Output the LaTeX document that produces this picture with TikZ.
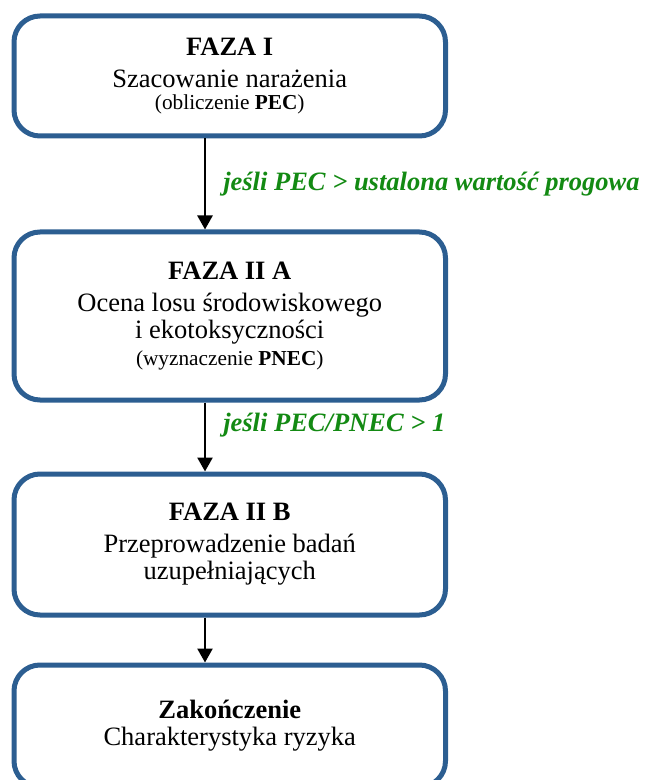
\documentclass[tikz,border=0pt]{standalone}
\usepackage{fontspec}
\setmainfont{Liberation Serif}
\usetikzlibrary{arrows.meta,positioning}
\definecolor{frame1}{HTML}{2C5E91}
\definecolor{condgreen}{HTML}{138A13}

\begin{document}
\begin{tikzpicture}[x=0.5pt,y=-0.5pt,
  phase/.style={draw=frame1,line width=2.5pt,rounded corners=13pt,fill=white,
    minimum width=215.75pt,inner sep=0pt,align=center,
    font=\fontsize{13.25}{13.5}\selectfont},
  arr/.style={line width=1.3pt,-{Triangle[width=7.5pt,length=7pt]}},
  cond/.style={right,inner sep=0pt,xshift=8.5pt,text=condgreen,
    font=\fontsize{13.25}{13.5}\selectfont\bfseries\itshape}]
  \clip (0,0) rectangle (646,780);
  \coordinate (axis) at (205,0);
  % phases
  \node[phase,minimum height=60pt] (faza1) at (229.75,76)
       {\textbf{FAZA I}\\[2.5pt] Szacowanie narażenia\\[-2.3pt]
        {\fontsize{10.65}{11}\selectfont(obliczenie \textbf{PEC})}};
  \node[phase,minimum height=84pt] (faza2a) at (229.75,316)
       {\textbf{FAZA II A}\\[2.5pt] Ocena losu środowiskowego\\
        i ekotoksyczności\\[-0.2pt]
        {\fontsize{10.65}{11}\selectfont(wyznaczenie \textbf{PNEC})}};
  \node[phase,minimum height=70.5pt] (faza2b) at (229.75,544.5)
       {\textbf{FAZA II B}\\[2.5pt] Przeprowadzenie badań\\ uzupełniających};
  \node[phase,minimum height=61pt] (koniec) at (229.75,726)
       {\textbf{Zakończenie}\\ Charakterystyka ryzyka};
  % transitions
  \draw[arr] (faza1.south -| axis) --
     node[cond,pos=0.5] {jeśli PEC > ustalona wartość progowa} (faza2a.north -| axis);
  \draw[arr] (faza2a.south -| axis) --
     node[cond,pos=0.33] {jeśli PEC/PNEC > 1} (faza2b.north -| axis);
  \draw[arr] (faza2b.south -| axis) -- (koniec.north -| axis);
\end{tikzpicture}
\end{document}
